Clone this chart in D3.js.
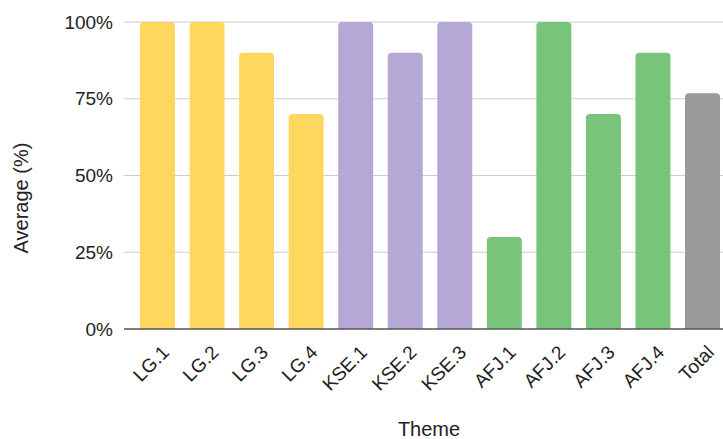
<!DOCTYPE html>
<html>
<head>
<meta charset="utf-8">
<script src="https://cdn.jsdelivr.net/npm/d3@7"></script>
<style>
  html, body { margin: 0; padding: 0; background: #fff; overflow: hidden; }
  svg { display: block; font-family: "Liberation Sans", Arial, sans-serif; }
</style>
</head>
<body>
<svg id="chart" width="723" height="439"></svg>
<script>
// Themes and their average scores (%)
const themes = ["LG.1", "LG.2", "LG.3", "LG.4", "KSE.1", "KSE.2", "KSE.3", "AFJ.1", "AFJ.2", "AFJ.3", "AFJ.4", "Total"];
const averages = [100, 100, 90, 70, 100, 90, 100, 30, 100, 70, 90, 76.8];
const groups = ["LG", "LG", "LG", "LG", "KSE", "KSE", "KSE", "AFJ", "AFJ", "AFJ", "AFJ", "Total"];
const yTicks = [0, 25, 50, 75, 100];

const groupColor = { LG: "#ffd75e", KSE: "#b5a7d6", AFJ: "#78c47b", Total: "#999999" };

const svg = d3.select("#chart");
const W = 723, H = 439;
const plotLeft = 124, plotTop = 22, plotBottom = 329;
const FONT = "Liberation Sans, Arial, sans-serif";

const x = d3.scaleBand()
  .domain(themes)
  .range([plotLeft, 736])
  .paddingInner(0.294)
  .paddingOuter(0.323);

const y = d3.scaleLinear().domain([0, 100]).range([plotBottom, plotTop]);

// Gridlines
svg.append("g")
  .selectAll("line")
  .data(yTicks.filter(d => d > 0))
  .join("line")
  .attr("x1", plotLeft).attr("x2", W)
  .attr("y1", d => y(d)).attr("y2", d => y(d))
  .attr("stroke", "#cccccc").attr("stroke-width", 1.2);

// Y axis labels
const yAxis = d3.axisLeft(y).tickValues(yTicks).tickFormat(d => d + "%").tickSize(0).tickPadding(11);
const gy = svg.append("g").attr("transform", `translate(${plotLeft},0)`).call(yAxis);
gy.select(".domain").remove();
gy.selectAll("text").attr("font-size", 19).attr("fill", "#222").attr("font-family", FONT);

// Bars with rounded top corners
const r = 4;
function barPath(x0, w, yTop, yBot) {
  return `M${x0},${yBot} L${x0},${yTop + r} Q${x0},${yTop} ${x0 + r},${yTop} ` +
         `L${x0 + w - r},${yTop} Q${x0 + w},${yTop} ${x0 + w},${yTop + r} L${x0 + w},${yBot} Z`;
}
svg.append("g")
  .selectAll("path")
  .data(themes)
  .join("path")
  .attr("d", (d, i) => barPath(x(d), x.bandwidth(), y(averages[i]), y(0)))
  .attr("fill", (d, i) => groupColor[groups[i]]);

// Baseline
svg.append("line")
  .attr("x1", plotLeft).attr("x2", W)
  .attr("y1", y(0)).attr("y2", y(0))
  .attr("stroke", "#555").attr("stroke-width", 1.6);

// X axis labels, rotated
const xAxis = d3.axisBottom(x).tickSize(0).tickPadding(0);
const gx = svg.append("g").attr("transform", `translate(0,${plotBottom})`).call(xAxis);
gx.select(".domain").remove();
gx.selectAll("text")
  .attr("font-size", 19).attr("fill", "#222")
  .attr("font-family", FONT)
  .attr("text-anchor", "end")
  .attr("dy", null).attr("y", 0)
  .attr("transform", "translate(3,15) rotate(-45)")
  .attr("dominant-baseline", "hanging");

// Axis titles
svg.append("text")
  .attr("x", 429).attr("y", 436)
  .attr("text-anchor", "middle")
  .attr("font-size", 20).attr("fill", "#222")
  .text("Theme");

svg.append("text")
  .attr("transform", `translate(28,198) rotate(-90)`)
  .attr("text-anchor", "middle")
  .attr("font-size", 20).attr("fill", "#222")
  .text("Average (%)");
</script>
</body>
</html>
